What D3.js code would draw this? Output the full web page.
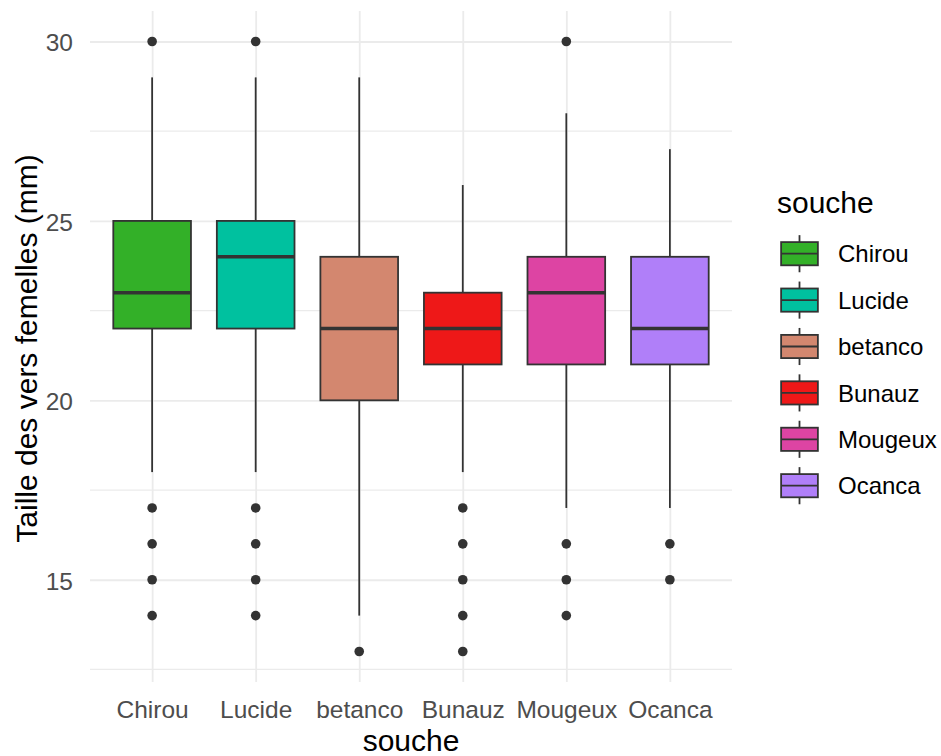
<!DOCTYPE html>
<html>
<head>
<meta charset="utf-8">
<script src="https://cdn.jsdelivr.net/npm/d3@7"></script>
<style>
  html, body { margin: 0; padding: 0; background: #fff; }
  svg { display: block; font-family: "Liberation Sans", Arial, sans-serif; }
</style>
</head>
<body>
<svg id="chart" width="941" height="756"></svg>
<script>
// ---- data ----
const categories = ["Chirou", "Lucide", "betanco", "Bunauz", "Mougeux", "Ocanca"];
const colors = ["#33b028", "#00c19f", "#d3876f", "#ee1818", "#dd44a3", "#b07ff9"];
const lowerWhisker = [18, 18, 14, 18, 17, 17];
const q1 = [22, 22, 20, 21, 21, 21];
const median = [23, 24, 22, 22, 23, 22];
const q3 = [25, 25, 24, 23, 24, 24];
const upperWhisker = [29, 29, 29, 26, 28, 27];
const outliers = [
  [30, 17, 16, 15, 14],
  [30, 17, 16, 15, 14],
  [13],
  [17, 16, 15, 14, 13],
  [30, 16, 15, 14],
  [16, 15]
];
const yMajorTicks = [15, 20, 25, 30];
const yMinorTicks = [12.5, 17.5, 22.5, 27.5];
const xTitle = "souche";
const yTitle = "Taille des vers femelles (mm)";
const legendTitle = "souche";

// ---- layout ----
const svg = d3.select("#chart");
const panel = { left: 90, right: 732, top: 11, bottom: 682 };

const x = d3.scalePoint().domain(categories).range([panel.left, panel.right]).padding(0.6);
const y = d3.scaleLinear().domain([12.15, 30.85]).range([panel.bottom, panel.top]);
const boxW = x.step() * 0.75;
const gridColor = "#ebebeb";
const lineColor = "#333333";

// grid: minor horizontal
svg.append("g").selectAll("line").data(yMinorTicks).join("line")
  .attr("x1", panel.left).attr("x2", panel.right)
  .attr("y1", d => y(d)).attr("y2", d => y(d))
  .attr("stroke", gridColor).attr("stroke-width", 1.2);

// grid: major horizontal via axis
const yAxis = svg.append("g")
  .attr("transform", `translate(${panel.left},0)`)
  .call(d3.axisLeft(y).tickValues(yMajorTicks).tickSize(-(panel.right - panel.left)).tickPadding(17).tickFormat(d3.format("d")));
yAxis.select(".domain").remove();
yAxis.selectAll(".tick line").attr("stroke", gridColor).attr("stroke-width", 1.8);
yAxis.selectAll(".tick text").attr("fill", "#4d4d4d").attr("font-size", 24.5).attr("dy", "0.38em")
  .attr("font-family", "'Liberation Sans', Arial, sans-serif");

// grid: major vertical via axis
const xAxis = svg.append("g")
  .attr("transform", `translate(0,${panel.bottom})`)
  .call(d3.axisBottom(x).tickSize(-(panel.bottom - panel.top)).tickPadding(19));
xAxis.select(".domain").remove();
xAxis.selectAll(".tick line").attr("stroke", gridColor).attr("stroke-width", 1.8);
xAxis.selectAll(".tick text").attr("fill", "#4d4d4d").attr("font-size", 24.5)
  .attr("font-family", "'Liberation Sans', Arial, sans-serif");

// boxes
const boxes = svg.append("g").selectAll("g").data(categories).join("g");
boxes.append("line")
  .attr("x1", d => x(d)).attr("x2", d => x(d))
  .attr("y1", (d, i) => y(upperWhisker[i])).attr("y2", (d, i) => y(q3[i]))
  .attr("stroke", lineColor).attr("stroke-width", 1.8);
boxes.append("line")
  .attr("x1", d => x(d)).attr("x2", d => x(d))
  .attr("y1", (d, i) => y(q1[i])).attr("y2", (d, i) => y(lowerWhisker[i]))
  .attr("stroke", lineColor).attr("stroke-width", 1.8);
boxes.append("rect")
  .attr("x", d => x(d) - boxW / 2).attr("width", boxW)
  .attr("y", (d, i) => y(q3[i])).attr("height", (d, i) => y(q1[i]) - y(q3[i]))
  .attr("fill", (d, i) => colors[i]).attr("stroke", lineColor).attr("stroke-width", 1.8);
boxes.append("line")
  .attr("x1", d => x(d) - boxW / 2).attr("x2", d => x(d) + boxW / 2)
  .attr("y1", (d, i) => y(median[i])).attr("y2", (d, i) => y(median[i]))
  .attr("stroke", lineColor).attr("stroke-width", 3.6);
boxes.each(function(d, i) {
  d3.select(this).selectAll("circle").data(outliers[i]).join("circle")
    .attr("cx", x(d)).attr("cy", v => y(v)).attr("r", 4.8).attr("fill", lineColor);
});

// axis titles
svg.append("text").attr("x", (panel.left + panel.right) / 2).attr("y", 751)
  .attr("text-anchor", "middle").attr("font-size", 30).attr("fill", "#000").text(xTitle);
svg.append("text")
  .attr("transform", `translate(37,${(panel.top + panel.bottom) / 2 + 2}) rotate(-90)`)
  .attr("text-anchor", "middle").attr("font-size", 30).attr("fill", "#000").text(yTitle);

// legend
const legend = svg.append("g");
legend.append("text").attr("x", 777).attr("y", 213).attr("font-size", 30).attr("fill", "#000").text(legendTitle);
const keyH = 46.4, keyW = 49, keyX = 775, keyTop = 230.5;
const keys = legend.selectAll("g.key").data(categories).join("g").attr("class", "key")
  .attr("transform", (d, i) => `translate(${keyX},${keyTop + i * keyH})`);
keys.append("line")
  .attr("x1", keyW / 2).attr("x2", keyW / 2).attr("y1", keyH * 0.1).attr("y2", keyH * 0.9)
  .attr("stroke", lineColor).attr("stroke-width", 1.8);
keys.append("rect")
  .attr("x", keyW * 0.125).attr("width", keyW * 0.75)
  .attr("y", keyH * 0.25).attr("height", keyH * 0.5)
  .attr("fill", (d, i) => colors[i]).attr("stroke", lineColor).attr("stroke-width", 1.8);
keys.append("line")
  .attr("x1", keyW * 0.125).attr("x2", keyW * 0.875).attr("y1", keyH * 0.5).attr("y2", keyH * 0.5)
  .attr("stroke", lineColor).attr("stroke-width", 1.8);
keys.append("text").attr("x", 63).attr("y", keyH / 2).attr("dy", "0.36em")
  .attr("font-size", 24).attr("fill", "#000").text(d => d);
</script>
</body>
</html>
